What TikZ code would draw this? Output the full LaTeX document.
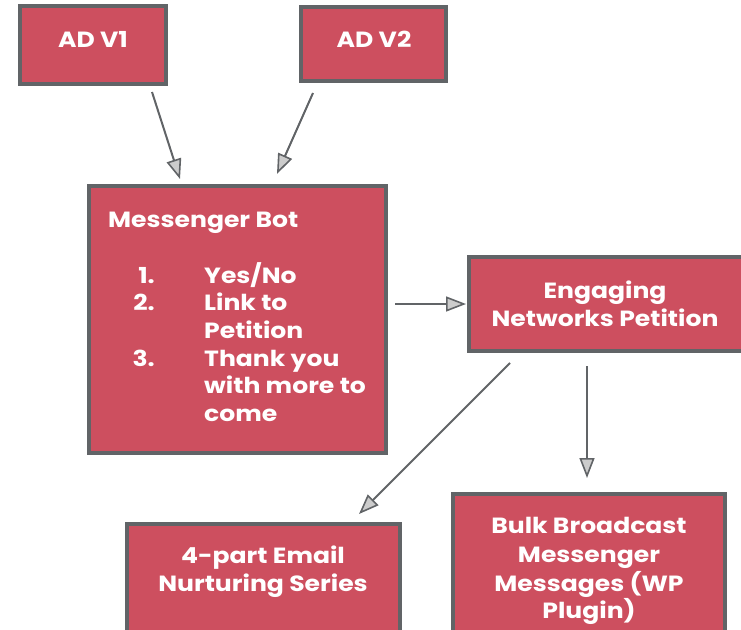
\documentclass[tikz,border=0pt]{standalone}
\usepackage{fontspec}
\setmainfont{Poppins}[FakeStretch=1.14]
\usetikzlibrary{arrows.meta}
\definecolor{boxred}{HTML}{CD4F5F}
\definecolor{edgegray}{HTML}{616467}
\definecolor{tipgray}{HTML}{CCCCCC}
\tikzset{
  box/.style={draw=edgegray, line width=4pt, fill=boxred, inner sep=0pt},
  lbl/.style={text=white, font=\bfseries\fontsize{22}{28}\selectfont, anchor=base, inner sep=0pt},
  conn/.style={draw=edgegray, line width=2pt,
    -{Triangle[length=20pt, width=15pt, fill=tipgray, line width=1.6pt]}},
}
\begin{document}
\begin{tikzpicture}[x=1pt, y=-1pt]
\useasboundingbox (0,0) rectangle (741,629);
% boxes
\node[box, minimum width=146pt, minimum height=78pt] (adv1) at (93,45) {};
\node[box, minimum width=145pt, minimum height=74pt] (adv2) at (373.5,44) {};
\node[box, minimum width=297pt, minimum height=267pt] (bot) at (237.5,319.5) {};
\node[box, minimum width=278pt, minimum height=94pt] (pet) at (608,304) {};
\node[box, minimum width=273pt, minimum height=110pt] (mail) at (263.5,579) {};
\node[box, minimum width=272pt, minimum height=150pt] (bulk) at (589,569) {};
% labels
\node[lbl] (t1) at (93,47) {AD V1};
\node[lbl] (t2) at (374,47) {AD V2};
\node[lbl, anchor=base west] (tb) at (108,227) {Messenger Bot};
\node[lbl, anchor=base east] (n1) at (155,283) {1.};
\node[lbl, anchor=base east] (n2) at (155,310) {2.};
\node[lbl, anchor=base east] (n3) at (155,366) {3.};
\node[lbl, anchor=base west] (i1) at (204,283) {Yes/No};
\node[lbl, anchor=base west] (i2) at (204,310) {Link to};
\node[lbl, anchor=base west] (i2b) at (204,338) {Petition};
\node[lbl, anchor=base west] (i3) at (204,366) {Thank you};
\node[lbl, anchor=base west] (i3b) at (204,393) {with more to};
\node[lbl, anchor=base west] (i3c) at (204,421) {come};
\node[lbl] (tp1) at (605,298) {Engaging};
\node[lbl] (tp2) at (605,326) {Networks Petition};
\node[lbl] (tm1) at (263,563) {4-part Email};
\node[lbl] (tm2) at (263,591) {Nurturing Series};
\node[lbl] (tk1) at (589,533) {Bulk Broadcast};
\node[lbl] (tk2) at (589,562) {Messenger};
\node[lbl] (tk3) at (589,591) {Messages (WP};
\node[lbl] (tk4) at (589,618) {Plugin)};
% connector ends
\coordinate (a1s) at (152,92);  \coordinate (a1e) at (180,179);
\coordinate (a2s) at (313,93);  \coordinate (a2e) at (277,174);
\coordinate (a3s) at (395,304); \coordinate (a3e) at (466,304);
\coordinate (a4s) at (510,363); \coordinate (a4e) at (359,514);
\coordinate (a5s) at (587,366); \coordinate (a5e) at (587,478);
\draw[conn] (a1s) -- (a1e);
\draw[conn] (a2s) -- (a2e);
\draw[conn] (a3s) -- (a3e);
\draw[conn] (a4s) -- (a4e);
\draw[conn] (a5s) -- (a5e);
\end{tikzpicture}
\end{document}
